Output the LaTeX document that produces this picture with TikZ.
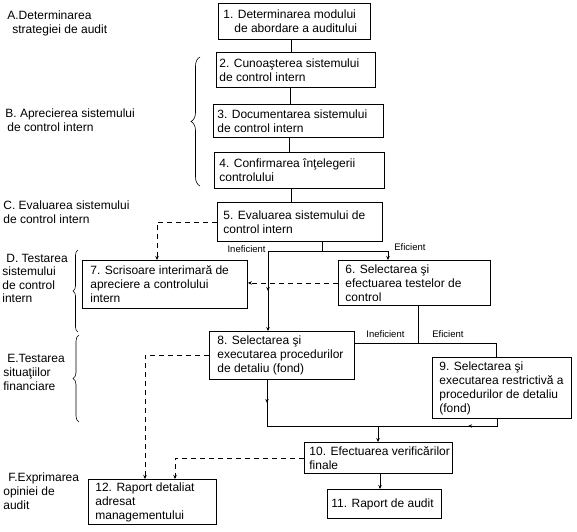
\documentclass[tikz,border=0pt]{standalone}
\usepackage{fontspec}
\setmainfont{Liberation Sans}
\usetikzlibrary{arrows.meta,decorations.pathreplacing,decorations.markings}
\begin{document}
\begin{tikzpicture}[x=1pt,y=-1pt,line width=0.8pt,
  box/.style={draw, line width=0.9pt, inner sep=0pt, anchor=north west},
  txt/.style={font=\fontsize{12}{14}\selectfont, align=left, inner sep=0pt, anchor=west},
  lbl/.style={font=\fontsize{12}{14}\selectfont, align=left, inner sep=0pt, anchor=north west},
  small/.style={font=\fontsize{9.5}{11}\selectfont, inner sep=0pt},
  arr/.style={-{Stealth[length=4pt,width=3.5pt]}},
  dsh/.style={dash pattern=on 5pt off 4pt},
  midarr/.style={postaction={decorate}, decoration={markings, mark=at position #1 with {\arrow{Stealth[length=4pt,width=3.5pt]}}}},
  midarr/.default=0.5,
  brc/.style={decorate, decoration={brace, amplitude=#1}, line width=0.6pt}]
\useasboundingbox (0,0) rectangle (577,531);

% boxes
\node[box, minimum width=152pt, minimum height=36pt] (b1) at (218,3) {};
\node[txt] (t1) at ([xshift=5pt]b1.west) {1. Determinarea modului\\\hspace*{11pt}de abordare a auditului};
\node[box, minimum width=159pt, minimum height=35pt] (b2) at (216,52) {};
\node[txt] (t2) at ([xshift=3pt]b2.west) {2. Cunoaşterea sistemului\\de control intern};
\node[box, minimum width=170pt, minimum height=33pt] (b3) at (213,104) {};
\node[txt] (t3) at ([xshift=4pt]b3.west) {3. Documentarea sistemului\\de control intern};
\node[box, minimum width=170pt, minimum height=36pt] (b4) at (214,152) {};
\node[txt] (t4) at ([xshift=5pt]b4.west) {4. Confirmarea înţelegerii\\controlului};
\node[box, minimum width=165pt, minimum height=39pt] (b5) at (217,202) {};
\node[txt] (t5) at ([xshift=6pt]b5.west) {5. Evaluarea sistemului de\\control intern};
\node[box, minimum width=152pt, minimum height=45pt] (b6) at (338,260) {};
\node[txt] (t6) at ([xshift=7pt]b6.west) {6. Selectarea şi\\efectuarea testelor de\\control};
\node[box, minimum width=165pt, minimum height=48pt] (b7) at (82,260) {};
\node[txt] (t7) at ([xshift=8pt]b7.west) {7. Scrisoare interimară de\\apreciere a controlului\\intern};
\node[box, minimum width=145pt, minimum height=48pt] (b8) at (209,331) {};
\node[txt] (t8) at ([xshift=8pt]b8.west) {8. Selectarea şi\\executarea procedurilor\\de detaliu (fond)};
\node[box, minimum width=139pt, minimum height=61pt] (b9) at (432,357) {};
\node[txt] (t9) at ([xshift=7pt]b9.west) {9. Selectarea şi\\executarea restrictivă a\\procedurilor de detaliu\\(fond)};
\node[box, minimum width=148pt, minimum height=31pt] (b10) at (304,442) {};
\node[txt] (t10) at ([xshift=5pt]b10.west) {10. Efectuarea verificărilor\\finale};
\node[box, minimum width=114pt, minimum height=29pt] (b11) at (327,489) {};
\node[txt] (t11) at ([xshift=4pt]b11.west) {11. Raport de audit};
\node[box, minimum width=128pt, minimum height=45pt] (b12) at (88,479) {};
\node[txt] (t12) at ([xshift=7pt]b12.west) {12. Raport detaliat\\adresat\\managementului};

% left labels
\node[lbl] (la) at (7,10.5) {A.Determinarea\\\hspace*{5pt}strategiei de audit};
\node[lbl] (lb) at (5,108.5) {B. Aprecierea sistemului\\\hspace*{2pt}de control intern};
\node[lbl] (lc) at (3,200.5) {C. Evaluarea sistemului\\de control intern};
\node[lbl, font=\fontsize{12}{13.5}\selectfont] (ld) at (2,253.5) {\hspace*{4pt}D. Testarea\\sistemului\\de control\\intern};
\node[lbl] (le) at (3,353.5) {\hspace*{4pt}E.Testarea\\situaţiilor\\financiare};
\node[lbl] (lf) at (3,472.5) {\hspace*{5pt}F.Exprimarea\\opiniei de\\audit};

% braces
\draw[brc=9pt] (200,186) -- (200,57);
\draw[brc=5pt] (78,332) -- (78,250);
\draw[brc=6pt] (79,422) -- (79,335);

% vertical chain 1-5
\coordinate (v1) at (291,0);
\coordinate (v2) at (290,0);
\coordinate (v3) at (289,0);
\coordinate (v4) at (291,0);
\draw (b1.south -| v1) -- (b2.north -| v1);
\draw (b2.south -| v2) -- (b3.north -| v2);
\draw (b3.south -| v3) -- (b4.north -| v3);
\draw (b4.south -| v4) -- (b5.north -| v4);

% split after 5
\coordinate (j5) at (322,251);
\coordinate (L5) at (268,251);
\coordinate (R5) at (388,251);
\draw (b5.south -| j5) -- (j5);
\draw (j5) -- (L5);
\draw[arr, midarr] (L5) -- (L5 |- b8.north);
\draw[arr] (j5) -- (R5) -- (R5 |- b6.north);
\node[small, anchor=base east] (i1) at (266,252.5) {Ineficient};
\node[small, anchor=base west] (e1) at (394,250.5) {Eficient};

% split after 6
\coordinate (j6) at (418,343);
\coordinate (R6) at (496,343);
\draw (b6.south -| j6) -- (j6);
\draw (b8.east |- j6) -- (R6) -- (R6 |- b9.north);
\node[small, anchor=base west] (i2) at (366,337.5) {Ineficient};
\node[small, anchor=base west] (e2) at (432,337.5) {Eficient};

% join to 10
\coordinate (L8) at (267,426);
\coordinate (R9) at (497,426);
\coordinate (j10) at (378,426);
\draw[midarr] (b8.south -| L8) -- (L8);
\draw[midarr=36pt] (b9.south -| R9) -- (R9) -- (L8);
\draw[arr] (j10) -- (j10 |- b10.north);
\coordinate (v10) at (380,0);
\draw[arr] (b10.south -| v10) -- (b11.north -| v10);

% dashed connectors
\coordinate (d7) at (157,0);
\coordinate (d12a) at (145,0);
\coordinate (d12b) at (175,0);
\draw[dsh, arr] (b5.west) -- (b5.west -| d7) -- (d7 |- b7.north);
\draw[dsh, arr] (b6.west) -- (b6.west -| b7.east);
\draw[dsh, arr] (b8.west) -- (b8.west -| d12a) -- (d12a |- b12.north);
\draw[dsh, arr] (b10.west) -- (b10.west -| d12b) -- (d12b |- b12.north);
\end{tikzpicture}
\end{document}
